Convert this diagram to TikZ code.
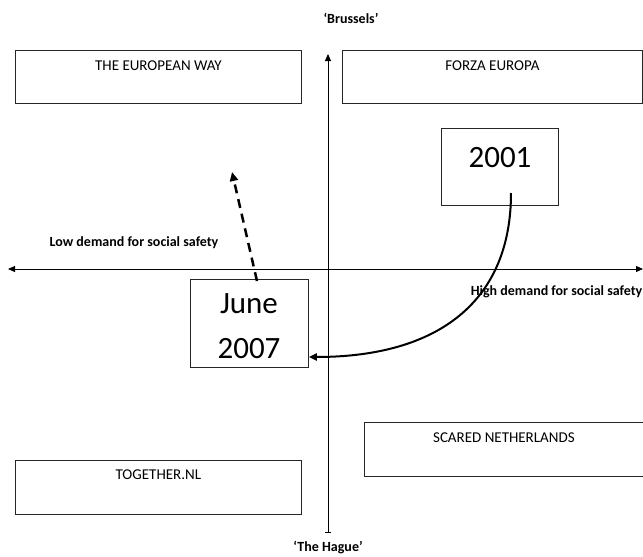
\documentclass[tikz,border=0pt]{standalone}
\usepackage{fontspec}
\setmainfont{Carlito}
\usetikzlibrary{arrows.meta}
\begin{document}
\begin{tikzpicture}[x=1pt,y=-1pt,
  box/.style={draw=black!85, line width=0.8pt, rectangle, inner sep=0pt, anchor=north west},
  boxtext/.style={font=\fontsize{15}{17}\selectfont, anchor=center, inner sep=0pt},
  axislabel/.style={font=\bfseries\fontsize{14}{16}\selectfont, inner sep=0pt},
  yeartext/.style={font=\fontsize{31}{36}\selectfont, align=center, inner sep=0pt},
  axis/.style={line width=1pt}
]
\useasboundingbox (0,0) rectangle (643,557);
% axes
\coordinate (vtop) at (328,54);
\coordinate (vbot) at (328,533);
\coordinate (hl) at (8,269);
\coordinate (hr) at (643,269);
\draw[axis,{Bar[width=6pt]}-{Triangle[length=7pt,width=6pt]}] (vbot) -- (vtop);
\draw[axis,{Triangle[length=7pt,width=6pt]}-{Triangle[length=7pt,width=6pt]}] (hl) -- (hr);
% axis labels
\node[axislabel] (brussels) at (351,18) {‘Brussels’};
\node[axislabel] (hague) at (328,548) {‘The Hague’};
\node[axislabel] (low) at (134,243) {Low demand for social safety};
\node[axislabel, anchor=east] (high) at (642.5,292) {High demand for social safety};
% quadrant boxes
\node[box, minimum width=286pt, minimum height=53pt] (ew) at (15,50) {};
\node[boxtext] (ewt) at ([yshift=-16pt]ew.north) {THE EUROPEAN WAY};
\node[box, minimum width=300pt, minimum height=53pt] (fe) at (342,50) {};
\node[boxtext] (fet) at ([yshift=-16pt]fe.north) {FORZA EUROPA};
\node[box, minimum width=279pt, minimum height=54pt] (sn) at (364,422) {};
\node[boxtext] (snt) at ([yshift=-16pt]sn.north) {SCARED NETHERLANDS};
\node[box, minimum width=286pt, minimum height=54pt] (tn) at (15,460) {};
\node[boxtext] (tnt) at ([yshift=-15pt]tn.north) {TOGETHER.NL};
% year boxes
\node[box, minimum width=117pt, minimum height=77pt] (y01) at (441,128) {};
\node[yeartext, anchor=center] (y01t) at (500,158) {2001};
\node[box, minimum width=118pt, minimum height=88pt] (y07) at (190,279) {};
\node[yeartext, anchor=center] (y07a) at (249,304) {June};
\node[yeartext, anchor=center] (y07b) at (249,349) {2007};
% arrows
\coordinate (cstart) at (511,193);
\coordinate (dstart) at (257,281);
\coordinate (dend) at (232,172);
\draw[line width=2pt, -{Triangle[length=8pt,width=7pt]}] (cstart) .. controls (511,300) and (440,357) .. (y07.east |- 0,357);
\draw[line width=2.5pt, dash pattern=on 9pt off 6pt, -{Triangle[length=9pt,width=8pt]}] (dstart) -- (dend);
\end{tikzpicture}
\end{document}
